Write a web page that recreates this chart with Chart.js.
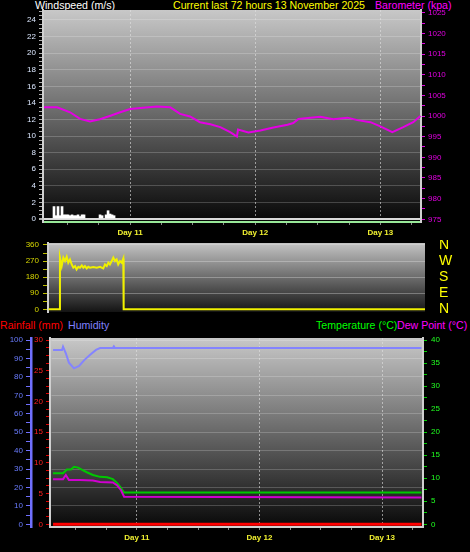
<!DOCTYPE html>
<html>
<head>
<meta charset="utf-8">
<script src="https://cdn.jsdelivr.net/npm/chart.js@4/dist/chart.umd.min.js"></script>
<style>
  body { margin: 0; background: #000; width: 470px; height: 552px; overflow: hidden; position: relative; }
  .t { position: absolute; font: 10.6px "Liberation Sans", Arial, sans-serif; line-height: 12px; white-space: nowrap; }
  .p { position: absolute; left: 0; }
</style>
</head>
<body>
<div class="t" style="left:35px;top:-1px;color:#fff">Windspeed (m/s)</div>
<div class="t" style="left:173px;top:-1px;color:#ffff00">Current last 72 hours 13 November 2025</div>
<div class="t" style="left:375px;top:-1px;color:#ff00ff">Barometer (kpa)</div>
<div class="t" style="left:0;top:319px;color:#ff0000">Rainfall (mm)</div>
<div class="t" style="left:68px;top:319px;color:#8080ff">Humidity</div>
<div class="t" style="left:316px;top:319px;color:#00ff00">Temperature (°C)</div>
<div class="t" style="left:397px;top:319px;color:#ff00ff">Dew Point (°C)</div>

<canvas class="p" id="wind-baro-chart" width="470" height="240" style="top:0"></canvas>
<canvas class="p" id="wind-dir-chart" width="470" height="78" style="top:240px"></canvas>
<canvas class="p" id="temp-hum-chart" width="470" height="220" style="top:332px"></canvas>

<script>
// 時間軸：以 11 月 10 日 00:00 起算的小時數
const baroTimes = [7.5, 10.0, 12.5, 14.4, 16.3, 18.2, 20.1, 22.1, 24.0, 26.5, 29.2, 31.7, 33.6, 35.5, 37.4, 39.4, 41.3, 43.2, 44.5, 44.7, 46.7, 49.0, 51.5, 54.2, 55.3, 56.3, 58.6, 60.5, 63.0, 65.7, 67.6, 70.1, 72.0, 74.3, 76.4, 78.3, 79.7];
const baroValues = [1002.1, 1002.1, 1000.9, 999.3, 998.7, 999.2, 1000.0, 1000.9, 1001.7, 1002.0, 1002.3, 1002.1, 1000.5, 999.9, 998.5, 998.0, 997.3, 996.1, 995.0, 996.7, 996.0, 996.5, 997.2, 997.9, 998.3, 999.3, 999.6, 999.8, 999.2, 999.6, 999.0, 998.5, 997.5, 996.1, 997.3, 998.5, 1000.0];

const windTimes = [9.41, 9.80, 10.18, 10.56, 10.95, 11.33, 11.72, 12.10, 12.48, 12.87, 13.25, 13.64, 14.02, 14.40, 14.79, 15.17, 18.24, 18.63, 19.40, 19.78, 20.16, 20.55, 20.93];
const windSpeeds = [1.5, 0.4, 1.5, 0.4, 1.5, 0.5, 0.5, 0.5, 0.4, 0.5, 0.4, 0.4, 0.5, 0.3, 0.5, 0.5, 0.5, 0.4, 0.5, 1.0, 0.6, 0.5, 0.4];

const dirTimes = [7.4, 9.55, 9.6, 9.93, 10.25, 10.57, 10.9, 11.2, 11.53, 11.86, 12.17, 12.5, 12.8, 13.13, 13.45, 13.8, 14.1, 14.4, 14.74, 15.05, 15.38, 16.0, 16.67, 17.3, 17.93, 18.26, 18.6, 18.9, 19.2, 19.55, 19.86, 20.18, 20.5, 20.8, 21.15, 21.47, 21.78, 21.85, 79.8];
const dirValues = [0, 0, 289, 242, 289, 270, 294, 261, 279, 251, 233, 242, 223, 238, 233, 246, 233, 242, 229, 238, 233, 236, 233, 238, 229, 251, 242, 261, 251, 270, 289, 270, 279, 251, 270, 261, 284, 0, 0];
const compassLabels = { 0: 'N', 90: 'E', 180: 'S', 270: 'W', 360: 'N' };

const humTimes = [7.6, 9.35, 9.55, 10.1, 10.7, 11.7, 12.7, 13.7, 14.8, 16.0, 16.8, 19.3, 19.5, 19.7, 79.7];
const humValues = [94.6, 94.6, 96.4, 92.8, 87.7, 84.6, 85.9, 89.1, 91.9, 94.6, 95.6, 95.6, 96.5, 95.6, 95.6];

const tempTimes = [7.6, 9.55, 10.3, 11.1, 11.7, 12.5, 13.3, 14.2, 15.4, 16.8, 18.2, 19.3, 20.1, 20.7, 21.5, 79.7];
const tempValues = [11.1, 11.1, 11.9, 11.9, 12.5, 12.3, 11.8, 11.3, 10.7, 10.3, 10.2, 9.8, 9.0, 8.2, 6.9, 6.9];

const dewTimes = [7.6, 9.55, 10.1, 10.7, 12.9, 15.4, 16.8, 19.3, 20.1, 20.9, 21.5, 79.7];
const dewValues = [9.8, 9.8, 10.7, 9.6, 9.6, 9.5, 9.2, 9.1, 8.5, 7.4, 6.0, 5.8];

const rainTimes = [7.6, 79.7];
const rainValues = [0, 0];

Chart.defaults.font.family = '"Liberation Sans", Arial, sans-serif';
Chart.defaults.animation = false;
Chart.defaults.plugins.legend.display = false;
Chart.defaults.plugins.tooltip.enabled = false;

const pts = (times, values) => times.map((t, i) => ({ x: t, y: values[i] }));
const isMult = (v, m) => Math.abs(v / m - Math.round(v / m)) < 1e-6;

// 固定軸寬，並取消標籤溢出造成的繪圖區內縮
const fixWidth = w => s => { s.width = w; s.paddingTop = 0; s.paddingBottom = 0; };

// 繪圖區灰階漸層背景
const plotBackground = {
    id: 'plotBackground',
    beforeDraw(chart, args, opts) {
        const { ctx, chartArea: a } = chart;
        const g = ctx.createLinearGradient(0, a.top, 0, a.bottom);
        g.addColorStop(0, opts.top);
        g.addColorStop(1, opts.bottom);
        ctx.save();
        ctx.fillStyle = g;
        ctx.fillRect(a.left, a.top, a.width, a.height);
        ctx.restore();
    }
};

function dayAxis(min, max, height) {
    return {
        type: 'linear', min: min, max: max, offset: false,
        afterFit: s => { s.height = height; s.paddingLeft = 0; s.paddingRight = 0; },
        ticks: {
            stepSize: 6, includeBounds: false, autoSkip: false, maxRotation: 0,
            color: '#f0f030', font: { size: 8, weight: 'bold' }, padding: 3,
            callback: v => isMult(v, 24) ? 'Day ' + (10 + v / 24) : ''
        },
        grid: {
            offset: false,
            color: c => c.tick && isMult(c.tick.value, 24) ? 'rgba(225,225,225,0.6)' : 'rgba(0,0,0,0)',
            tickColor: '#8a8a8a', tickLength: 3
        },
        border: { color: '#d0d0d0', width: 2, dash: [2, 2] }
    };
}

// 上圖：風速與氣壓
const axis1 = dayAxis(7.3, 79.8, 18);
axis1.border.color = '#98e898';
new Chart(document.getElementById('wind-baro-chart'), {
    type: 'line',
    data: {
        datasets: [{
            label: 'Barometer',
            data: pts(baroTimes, baroValues),
            yAxisID: 'yBaro',
            borderColor: '#e400e4', borderWidth: 2, pointRadius: 0
        }, {
            type: 'bar',
            label: 'Windspeed',
            data: pts(windTimes, windSpeeds),
            yAxisID: 'yWind',
            backgroundColor: '#ffffff', barThickness: 2, borderWidth: 0
        }]
    },
    options: {
        responsive: false,
        layout: { padding: { top: 10 } },
        plugins: { plotBackground: { top: '#c8c8c8', bottom: '#060606' } },
        scales: {
            x: axis1,
            yWind: {
                position: 'left', min: -0.36, max: 25.2,
                afterFit: fixWidth(43),
                ticks: {
                    stepSize: 0.5, includeBounds: false, autoSkip: false,
                    color: '#dce8ff', font: { size: 8 }, padding: 3,
                    callback: v => isMult(v, 2) ? v : ''
                },
                grid: {
                    color: c => c.tick.value === 0 ? '#d8d8d8' : (isMult(c.tick.value, 2) ? 'rgba(255,255,255,0.2)' : 'rgba(0,0,0,0)'),
                    lineWidth: c => c.tick.value === 0 ? 2 : 1,
                    tickColor: '#b0b0b0', tickLength: 4
                },
                border: { color: '#d0d0d0', width: 2 }
            },
            yBaro: {
                position: 'right', min: 974.35, max: 1025.65,
                afterFit: fixWidth(49),
                ticks: {
                    stepSize: 2.5, includeBounds: false, autoSkip: false,
                    color: '#e000e0', font: { size: 8 }, padding: 3,
                    callback: v => isMult(v, 5) ? v : ''
                },
                grid: { drawOnChartArea: false, tickColor: '#e000e0', tickLength: 4 },
                border: { color: '#d0d0d0', width: 2 }
            }
        }
    },
    plugins: [plotBackground]
});

// 中圖：風向
new Chart(document.getElementById('wind-dir-chart'), {
    type: 'line',
    data: {
        datasets: [{
            label: 'Wind direction',
            data: pts(dirTimes, dirValues),
            yAxisID: 'yDir',
            borderColor: '#f0f000', borderWidth: 2, pointRadius: 0
        }]
    },
    options: {
        responsive: false,
        layout: { padding: { top: 3, bottom: 6 } },
        plugins: { plotBackground: { top: '#c4c4c4', bottom: '#141414' } },
        scales: {
            x: { type: 'linear', min: 7.3, max: 79.8, display: false },
            yDir: {
                position: 'left', min: -15, max: 371,
                afterFit: fixWidth(48),
                ticks: {
                    stepSize: 45, includeBounds: false, autoSkip: false,
                    color: '#d8d800', font: { size: 8 }, padding: 4,
                    callback: v => isMult(v, 90) ? v : ''
                },
                grid: {
                    color: c => isMult(c.tick.value, 90) && c.tick.value > 0 ? 'rgba(230,230,230,0.35)' : 'rgba(0,0,0,0)',
                    tickColor: '#c0c000', tickLength: 5
                },
                border: { color: '#d0d0d0', width: 2 }
            },
            yCompass: {
                position: 'right', min: -15, max: 371,
                afterFit: fixWidth(45),
                ticks: {
                    stepSize: 90, includeBounds: false, autoSkip: false,
                    color: '#ffff00', font: { size: 14 }, padding: 14,
                    callback: v => compassLabels[v] || ''
                },
                grid: { drawOnChartArea: false, drawTicks: false },
                border: { display: false }
            }
        }
    },
    plugins: [plotBackground]
});

// 下圖：雨量、濕度、溫度與露點
new Chart(document.getElementById('temp-hum-chart'), {
    type: 'line',
    data: {
        datasets: [{
            label: 'Rainfall',
            data: pts(rainTimes, rainValues),
            yAxisID: 'yRain',
            borderColor: '#ff0000', borderWidth: 3, pointRadius: 0
        }, {
            label: 'Humidity',
            data: pts(humTimes, humValues),
            yAxisID: 'yHum',
            borderColor: '#8484ff', borderWidth: 2, pointRadius: 0
        }, {
            label: 'Dew Point',
            data: pts(dewTimes, dewValues),
            yAxisID: 'yTemp',
            borderColor: '#d000d0', borderWidth: 2, pointRadius: 0
        }, {
            label: 'Temperature',
            data: pts(tempTimes, tempValues),
            yAxisID: 'yTemp',
            borderColor: '#00c800', borderWidth: 2, pointRadius: 0
        }]
    },
    options: {
        responsive: false,
        layout: { padding: { top: 6 } },
        plugins: { plotBackground: { top: '#c8c8c8', bottom: '#080808' } },
        scales: {
            x: dayAxis(7.0, 80.0, 25),
            yHum: {
                position: 'left', weight: 1, min: -1.46, max: 101.09,
                afterFit: fixWidth(31),
                ticks: {
                    stepSize: 5, includeBounds: false, autoSkip: false,
                    color: '#6a7cff', font: { size: 8 }, padding: 3,
                    callback: v => isMult(v, 10) ? v : ''
                },
                grid: {
                    color: c => isMult(c.tick.value, 10) && c.tick.value > 0 ? 'rgba(255,255,255,0.2)' : 'rgba(0,0,0,0)',
                    tickColor: '#7070ff', tickLength: 5
                },
                border: { color: '#7070ff', width: 2.5 }
            },
            yRain: {
                position: 'left', weight: 0, min: -0.438, max: 30.327,
                afterFit: fixWidth(19),
                ticks: {
                    stepSize: 1.25, includeBounds: false, autoSkip: false,
                    color: '#ff2020', font: { size: 8 }, padding: 3,
                    callback: v => isMult(v, 5) ? v : ''
                },
                grid: { drawOnChartArea: false, tickColor: '#e00000', tickLength: 4 },
                border: { color: '#d0d0d0', width: 2 }
            },
            yTemp: {
                position: 'right', min: -0.584, max: 40.436,
                afterFit: fixWidth(47),
                ticks: {
                    stepSize: 2.5, includeBounds: false, autoSkip: false,
                    color: '#20ff20', font: { size: 8 }, padding: 4,
                    callback: v => isMult(v, 5) ? v : ''
                },
                grid: { drawOnChartArea: false, tickColor: '#00d000', tickLength: 4 },
                border: { color: '#d0d0d0', width: 2 }
            }
        }
    },
    plugins: [plotBackground]
});
</script>
</body>
</html>
